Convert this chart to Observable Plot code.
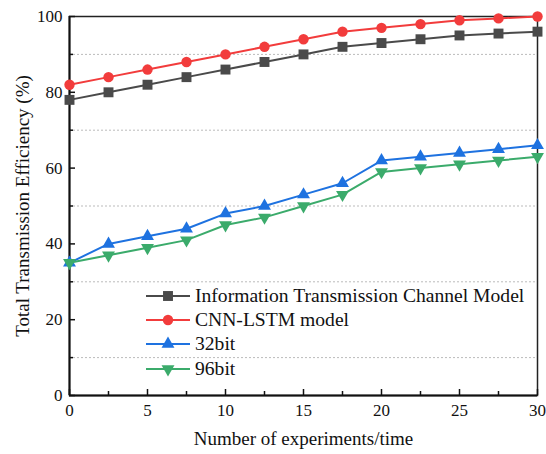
<!DOCTYPE html>
<html><head><meta charset="utf-8">
<script src="https://cdn.jsdelivr.net/npm/d3@7"></script>
<script src="https://cdn.jsdelivr.net/npm/@observablehq/plot@0.6"></script>
<style>
body{margin:0;background:#fff;}
#wrap{position:relative;width:546px;height:454px;font-family:"Liberation Serif",serif;}
#legend{position:absolute;left:146px;top:284px;font-size:19.6px;color:#111;}
.row{display:flex;align-items:center;height:24.2px;}
.row svg{margin-right:5px;}
</style></head>
<body><div id="wrap"><div id="legend"></div></div>
<script>
const xs = [0, 2.5, 5, 7.5, 10, 12.5, 15, 17.5, 20, 22.5, 25, 27.5, 30];
const seriesNames = ["Information Transmission Channel Model", "CNN-LSTM model", "32bit", "96bit"];
const infoChannel = [78, 80, 82, 84, 86, 88, 90, 92, 93, 94, 95, 95.5, 96];
const cnnLstm = [82, 84, 86, 88, 90, 92, 94, 96, 97, 98, 99, 99.5, 100];
const bit32 = [35, 40, 42, 44, 48, 50, 53, 56, 62, 63, 64, 65, 66];
const bit96 = [35, 37, 39, 41, 45, 47, 50, 53, 59, 60, 61, 62, 63];
const colors = ["#4a4a4a", "#f23c3c", "#1e72e0", "#3bab6b"];
const symbols = ["square", "circle", "triangle", "triangle"];
const rotations = [0, 0, 0, 180];
const radii = [5.6, 5.2, 4.8, 4.8];
const xTicks = [0, 5, 10, 15, 20, 25, 30];
const xMinor = [2.5, 7.5, 12.5, 17.5, 22.5, 27.5];
const yTicks = [0, 20, 40, 60, 80, 100];
const yMinor = [10, 30, 50, 70, 90];

const all = [infoChannel, cnnLstm, bit32, bit96];
const W = 546, H = 454, mL = 69, mR = 9, mT = 16, mB = 59;
const pw = W - mL - mR, ph = H - mT - mB;

const marks = [
  Plot.gridY(yMinor, {stroke: "#bbb", strokeOpacity: 1, strokeDasharray: "2,2", strokeWidth: 1}),
  Plot.frame({stroke: "#222", strokeWidth: 1.5}),
  Plot.ruleX([0], {stroke: "#111", strokeWidth: 2}),
  Plot.ruleY([0], {stroke: "#111", strokeWidth: 2}),
  Plot.tickY(yTicks, {y: d => d, insetRight: pw - 6, stroke: "#111", strokeWidth: 1.5}),
  Plot.tickY(yMinor, {y: d => d, insetRight: pw - 4, stroke: "#111", strokeWidth: 1.5}),
  Plot.tickX(xTicks, {x: d => d, insetTop: ph - 6, stroke: "#111", strokeWidth: 1.5}),
  Plot.tickX(xMinor, {x: d => d, insetTop: ph - 4, stroke: "#111", strokeWidth: 1.5}),
  Plot.axisX(xTicks, {tickSize: 0, tickPadding: 8, fontSize: 17, fill: "#111", label: null}),
  Plot.axisY(yTicks, {tickSize: 0, tickPadding: 7, fontSize: 17, fill: "#111", label: null})
];
all.forEach((vals, i) => {
  const data = xs.map((x, j) => ({x, y: vals[j]}));
  marks.push(Plot.line(data, {x: "x", y: "y", stroke: colors[i], strokeWidth: 2}));
  marks.push(Plot.dot(data, {x: "x", y: "y", fill: colors[i], symbol: symbols[i], rotate: rotations[i],
    r: radii[i], stroke: "none"}));
});
marks.push(Plot.text(["Number of experiments/time"], {frameAnchor: "bottom", dy: 43, lineAnchor: "middle", fontSize: 19, fill: "#111", textAnchor: "middle"}));
marks.push(Plot.text(["Total Transmission Efficiency (%)"], {frameAnchor: "left", dx: -47, rotate: -90, lineAnchor: "middle", fontSize: 19, fill: "#111", textAnchor: "middle"}));

const chart = Plot.plot({
  width: W, height: H,
  marginLeft: mL, marginRight: mR, marginTop: mT, marginBottom: mB,
  style: {fontFamily: "'Liberation Serif', serif", background: "#fff", overflow: "visible"},
  x: {domain: [0, 30], axis: null},
  y: {domain: [0, 100], axis: null},
  marks
});
document.getElementById("wrap").prepend(chart);

const leg = document.getElementById("legend");
const symGen = {square: d3.symbolSquare, circle: d3.symbolCircle, triangle: d3.symbolTriangle};
seriesNames.forEach((name, i) => {
  const row = document.createElement("div");
  row.className = "row";
  const area = Math.PI * radii[i] * radii[i];
  const path = d3.symbol(symGen[symbols[i]], area)();
  row.innerHTML = `<svg width="44" height="20"><line x1="0" x2="44" y1="10" y2="10" stroke="${colors[i]}" stroke-width="2"/>` +
    `<path d="${path}" fill="${colors[i]}" transform="translate(22,10) rotate(${rotations[i]})"/></svg><span>${name}</span>`;
  leg.appendChild(row);
});
</script></body></html>
